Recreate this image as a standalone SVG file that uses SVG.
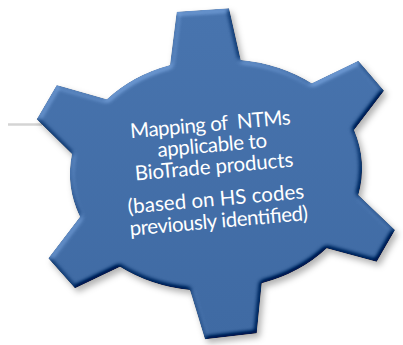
<svg xmlns="http://www.w3.org/2000/svg" width="403" height="345" viewBox="0 0 403 345">
  <style>
    .gear { fill: url(#gearFill); filter: url(#bevel); }
    .label { font-family: Lato, "Open Sans", "Liberation Sans", sans-serif; font-size: 20.5px; fill: #ffffff; text-anchor: middle; }
    .guide { stroke: #d4d4d4; stroke-width: 2.5; stroke-linecap: butt; }
  </style>
  <defs>
    <linearGradient id="gearFill" x1="0" y1="0" x2="0" y2="1">
      <stop offset="0" stop-color="#4874ae"/>
      <stop offset="1" stop-color="#3f6aa3"/>
    </linearGradient>
    <!-- soft bevel from a lit, blurred alpha height map, plus a drop shadow -->
    <filter id="bevel" x="-10%" y="-10%" width="125%" height="125%" color-interpolation-filters="sRGB">
      <feGaussianBlur in="SourceAlpha" stdDeviation="2.5" result="height"/>
      <feDiffuseLighting in="height" surfaceScale="4" diffuseConstant="1" lighting-color="#ffffff" result="light">
        <feDistantLight azimuth="240" elevation="45"/>
      </feDiffuseLighting>
      <feComposite in="SourceGraphic" in2="light" operator="arithmetic" k1="0" k2="1" k3="0.45" k4="-0.318" result="lit"/>
      <feComposite in="lit" in2="SourceAlpha" operator="in" result="face"/>
      <feGaussianBlur in="SourceAlpha" stdDeviation="3" result="sblur"/>
      <feOffset in="sblur" dx="3" dy="4" result="soff"/>
      <feFlood flood-color="#000000" flood-opacity="0.3"/>
      <feComposite in2="soff" operator="in" result="shadow"/>
      <feMerge>
        <feMergeNode in="shadow"/>
        <feMergeNode in="face"/>
      </feMerge>
    </filter>
  </defs>

  <g id="connectors">
    <line class="guide" x1="8" y1="124.5" x2="42" y2="124.5"/>
  </g>

  <g id="gear-node">
    <path class="gear" d="M170,65 L176.7,11.7 L229,8.3 L240.7,60
      A145,118 0 0 1 311.7,83.3 L358.3,60.7 L384,90.7 L354,130
      A145,118 0 0 1 358.3,195 L395,230 L376.7,261.7 L326.7,248.3
      A145,118 0 0 1 261.7,283.3 L256.7,333.3 L205,339.3 L190,290
      A145,118 0 0 1 120,266.7 L75,288.3 L48.3,258.3 L80,216.7
      A145,118 0 0 1 72,154 L36.7,119.3 L56.7,85 L106.7,99.3
      A145,118 0 0 1 170,65 Z"/>
    <g transform="rotate(-5 215 178)">
      <text class="label" x="215" y="131" xml:space="preserve" textLength="161">Mapping of  NTMs</text>
      <text class="label" x="215" y="152" textLength="110">applicable to</text>
      <text class="label" x="215" y="173.5" textLength="159">BioTrade products</text>
      <text class="label" x="214" y="206" textLength="177">(based on HS codes</text>
      <text class="label" x="215" y="228" textLength="179">previously identified)</text>
    </g>
  </g>
</svg>
